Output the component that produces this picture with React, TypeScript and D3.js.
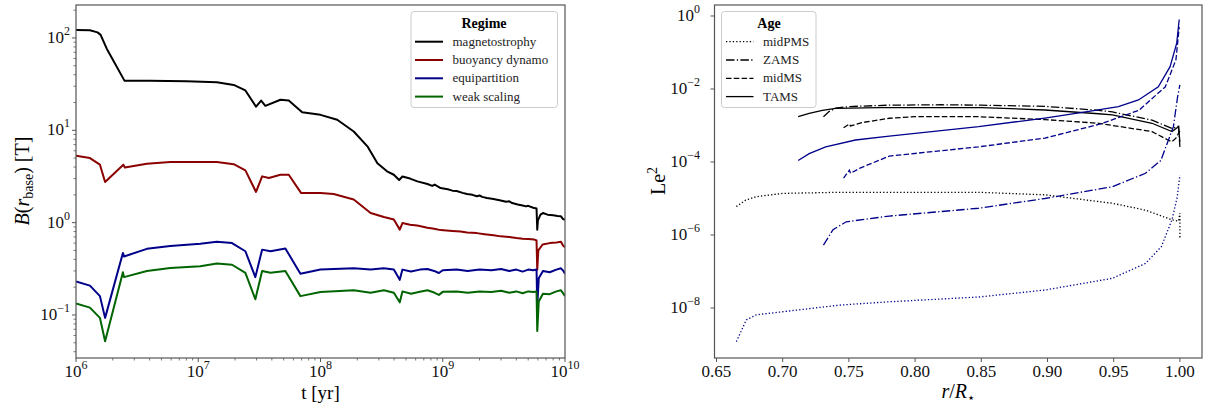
import React from 'react';
import * as d3 from 'd3';

type Pt = [number, number];

// ---- left panel: field strength at the base vs age ----
const regimeNames = ['magnetostrophy', 'buoyancy dynamo', 'equipartition', 'weak scaling'];
const regimeColors = ['#000000', '#8b0000', '#00008b', '#006400'];

const magnetostrophy: Pt[] = [
  [1e6, 122], [1.3e6, 121], [1.5e6, 115], [1.59e6, 108], [1.78e6, 77], [2.49e6, 34.5],
  [4e6, 34.5], [8e6, 34], [1.42e7, 33.2], [1.95e7, 31], [2.43e7, 27], [2.97e7, 18],
  [3.27e7, 21], [3.54e7, 18.4], [4.7e7, 21.4], [5.5e7, 21], [7.08e7, 15.7], [1e8, 14.7],
  [1.37e8, 13], [1.87e8, 9.7], [2.42e8, 6.7], [2.92e8, 4.4], [3.5e8, 3.6], [3.98e8, 3.3],
  [4.4e8, 2.9], [4.68e8, 3.16], [5.4e8, 3.0], [6.2e8, 2.8], [7.5e8, 2.62], [8.2e8, 2.5],
  [8.6e8, 2.58], [9.6e8, 2.37], [1.1e9, 2.3], [1.2e9, 2.22], [1.3e9, 2.2], [1.45e9, 2.1],
  [1.58e9, 2.04], [1.75e9, 2.0], [1.9e9, 1.93], [2.0e9, 1.97], [2.1e9, 1.9], [2.3e9, 1.85],
  [2.6e9, 1.8], [2.98e9, 1.74], [3.3e9, 1.68], [3.5e9, 1.7], [3.7e9, 1.63], [4.1e9, 1.57],
  [4.5e9, 1.53], [4.8e9, 1.5], [5.0e9, 1.52], [5.5e9, 1.45], [5.85e9, 1.42], [5.93e9, 0.84],
  [6.0e9, 1.05], [6.3e9, 1.22], [6.6e9, 1.27], [7.2e9, 1.22], [8.0e9, 1.2], [8.7e9, 1.18],
  [9.27e9, 1.17], [9.6e9, 1.1], [1e10, 1.07],
];

const buoyancyDynamo: Pt[] = [
  [1e6, 5.3], [1.3e6, 5.0], [1.57e6, 4.24], [1.73e6, 2.75], [2.44e6, 4.24], [2.51e6, 3.96],
  [3.8e6, 4.35], [5.9e6, 4.53], [1.42e7, 4.53], [1.95e7, 4.3], [2.43e7, 3.68], [2.97e7, 2.15],
  [3.33e7, 3.17], [3.78e7, 3.04], [4.7e7, 3.3], [5.5e7, 3.3], [6.95e7, 2.09], [1e8, 2.09],
  [1.28e8, 2.04], [1.87e8, 1.78], [2.57e8, 1.27], [3.3e8, 1.15], [3.98e8, 1.08], [4.45e8, 0.84],
  [4.68e8, 0.99], [5.4e8, 0.95], [6.17e8, 0.93], [7.5e8, 0.88], [8.5e8, 0.86], [9.6e8, 0.83],
  [1.2e9, 0.81], [1.4e9, 0.8], [1.58e9, 0.78], [1.9e9, 0.77], [2.2e9, 0.75], [2.6e9, 0.73],
  [2.98e9, 0.71], [3.5e9, 0.7], [4e9, 0.68], [4.5e9, 0.67], [5e9, 0.665], [5.62e9, 0.655],
  [5.85e9, 0.64], [5.93e9, 0.31], [6.05e9, 0.5], [6.56e9, 0.58], [7.5e9, 0.6], [8.5e9, 0.61],
  [9.27e9, 0.62], [9.6e9, 0.57], [1e10, 0.54],
];

const equipartition: Pt[] = [
  [1e6, 0.23], [1.3e6, 0.208], [1.57e6, 0.16], [1.73e6, 0.093], [2.42e6, 0.47], [2.47e6, 0.43],
  [3.8e6, 0.52], [5.9e6, 0.56], [1.04e7, 0.59], [1.42e7, 0.62], [1.89e7, 0.6], [2.43e7, 0.49],
  [2.93e7, 0.257], [3.33e7, 0.51], [3.9e7, 0.49], [5.16e7, 0.525], [6.85e7, 0.28], [1e8, 0.31],
  [1.87e8, 0.32], [2.57e8, 0.31], [3.3e8, 0.32], [3.98e8, 0.31], [4.45e8, 0.24], [4.68e8, 0.31],
  [5.5e8, 0.295], [6.5e8, 0.31], [7.5e8, 0.315], [8.5e8, 0.3], [9.3e8, 0.285], [1.0e9, 0.305],
  [1.3e9, 0.31], [1.6e9, 0.3], [2e9, 0.31], [2.5e9, 0.305], [3e9, 0.315], [3.5e9, 0.3],
  [4e9, 0.31], [4.5e9, 0.295], [5e9, 0.31], [5.5e9, 0.305], [5.85e9, 0.31], [5.93e9, 0.125],
  [6.1e9, 0.25], [6.6e9, 0.3], [7.5e9, 0.29], [8.5e9, 0.31], [9.27e9, 0.32], [9.7e9, 0.3],
  [1e10, 0.28],
];

const weakScaling: Pt[] = [
  [1e6, 0.133], [1.3e6, 0.12], [1.57e6, 0.093], [1.73e6, 0.052], [2.42e6, 0.29], [2.47e6, 0.257],
  [3.8e6, 0.3], [5.9e6, 0.323], [1.04e7, 0.337], [1.42e7, 0.36], [1.89e7, 0.35], [2.43e7, 0.286],
  [2.93e7, 0.148], [3.33e7, 0.3], [3.9e7, 0.286], [5.16e7, 0.3], [6.85e7, 0.16], [1e8, 0.177],
  [1.87e8, 0.185], [2.57e8, 0.174], [3.3e8, 0.185], [3.98e8, 0.174], [4.45e8, 0.137], [4.68e8, 0.18],
  [5.5e8, 0.17], [6.5e8, 0.178], [7.5e8, 0.185], [8.5e8, 0.175], [9.3e8, 0.165], [1.0e9, 0.178],
  [1.3e9, 0.18], [1.6e9, 0.174], [2e9, 0.18], [2.5e9, 0.177], [3e9, 0.183], [3.5e9, 0.174],
  [4e9, 0.18], [4.5e9, 0.172], [5e9, 0.18], [5.5e9, 0.177], [5.85e9, 0.18], [5.93e9, 0.067],
  [6.1e9, 0.14], [6.6e9, 0.17], [7.5e9, 0.168], [8.5e9, 0.18], [9.27e9, 0.185], [9.7e9, 0.17],
  [1e10, 0.16],
];

const regimeSeries = [magnetostrophy, buoyancyDynamo, equipartition, weakScaling];
const leftXTicks = [6, 7, 8, 9, 10];
const leftYTicks = [-1, 0, 1, 2];

// ---- right panel: Le^2 profiles ----
const ageNames = ['midPMS', 'ZAMS', 'midMS', 'TAMS'];
const ageDash = ['1.3,2.1', '8.5,2.3,1.3,2.3', '5.5,2.3', ''];

const midPMSBlack: Pt[] = [
  [0.665, 6e-6], [0.672, 9e-6], [0.68, 1.12e-5], [0.7, 1.38e-5], [0.743, 1.48e-5], [0.8, 1.48e-5],
  [0.848, 1.48e-5], [0.898, 1.26e-5], [0.949, 7.4e-6], [0.974, 4.8e-6], [0.994, 2.6e-6],
  [0.999, 2.4e-6], [1.0, 4e-6], [1.0, 8e-7],
];
const zamsBlack: Pt[] = [
  [0.7308, 1.74e-3], [0.735, 2.4e-3], [0.74, 3.0e-3], [0.75, 3.3e-3], [0.78, 3.6e-3], [0.82, 3.7e-3],
  [0.85, 3.6e-3], [0.898, 3.35e-3], [0.9386, 2.6e-3], [0.949, 2.35e-3], [0.979, 1.4e-3],
  [0.994, 8.3e-4], [0.999, 9.5e-4], [1.0, 2.6e-4],
];
const midMSBlack: Pt[] = [
  [0.746, 8.7e-4], [0.7504, 1.1e-3], [0.7512, 9.7e-4], [0.76, 1.2e-3], [0.7805, 1.58e-3],
  [0.8, 1.74e-3], [0.848, 1.74e-3], [0.898, 1.45e-3], [0.9386, 1.15e-3], [0.979, 6.8e-4],
  [0.991, 4.0e-4], [0.994, 3.6e-4], [0.997, 4.5e-4], [1.0, 7e-4],
];
const tamsBlack: Pt[] = [
  [0.7117, 1.74e-3], [0.72, 2.15e-3], [0.73, 2.6e-3], [0.74, 2.95e-3], [0.773, 3.1e-3],
  [0.85, 3.1e-3], [0.898, 2.66e-3], [0.9386, 2.1e-3], [0.949, 1.95e-3], [0.979, 1.15e-3],
  [0.994, 6.8e-4], [0.999, 9.3e-4], [1.0, 3.6e-4],
];

const midPMSBlue: Pt[] = [
  [0.665, 1.2e-9], [0.6725, 4.7e-9], [0.68, 6.5e-9], [0.7, 7.9e-9], [0.743, 1.2e-8], [0.7805, 1.48e-8],
  [0.848, 2.0e-8], [0.898, 3.1e-8], [0.949, 6.5e-8], [0.974, 1.66e-7], [0.986, 4.8e-7],
  [0.994, 2.6e-6], [0.998, 1.1e-5], [1.0, 4.4e-5],
];
const zamsBlue: Pt[] = [
  [0.7308, 5.3e-7], [0.738, 1.4e-6], [0.748, 2.3e-6], [0.7805, 3.3e-6], [0.848, 5.4e-6],
  [0.898, 1.0e-5], [0.949, 2.1e-5], [0.974, 4.9e-5], [0.9856, 1.1e-4], [0.9951, 9.3e-4],
  [0.9983, 6.2e-3], [1.0, 1.3e-2],
];
const midMSBlue: Pt[] = [
  [0.746, 3.6e-5], [0.7504, 6e-5], [0.7512, 4.9e-5], [0.758, 6.7e-5], [0.7805, 1.45e-4],
  [0.848, 2.6e-4], [0.898, 4.5e-4], [0.94, 1.1e-3], [0.969, 2.6e-3], [0.989, 1.15e-2],
  [0.997, 6.3e-2], [0.9995, 0.5],
];
const tamsBlue: Pt[] = [
  [0.7117, 1.1e-4], [0.72, 1.7e-4], [0.7325, 2.6e-4], [0.755, 4.0e-4], [0.7805, 5.1e-4],
  [0.848, 9.3e-4], [0.898, 1.6e-3], [0.93, 2.4e-3], [0.9536, 3.3e-3], [0.9687, 5e-3],
  [0.9837, 1.15e-2], [0.9926, 4.1e-2], [0.9976, 0.18], [0.9995, 0.8],
];

const blackProfiles = [midPMSBlack, zamsBlack, midMSBlack, tamsBlack];
const blueProfiles = [midPMSBlue, zamsBlue, midMSBlue, tamsBlue];
const rightXTicks = [0.65, 0.7, 0.75, 0.8, 0.85, 0.9, 0.95, 1.0];
const rightYTicks = [0, -2, -4, -6, -8];

const serif = '"Liberation Serif", "DejaVu Serif", serif';
const spine = '#555';

const PowTen = ({ x, y, exp, anchor }: { x: number; y: number; exp: number; anchor: string }) => (
  <text x={x} y={y} textAnchor={anchor} fontFamily={serif} fontSize={17} fill="#111">
    <tspan>10</tspan>
    <tspan dy={-8} fontSize={12}>{exp < 0 ? `\u2212${-exp}` : `${exp}`}</tspan>
  </text>
);

const App: React.FC = () => {
  const xL = d3.scaleLog().domain([1e6, 1e10]).range([76, 565]);
  const yL = d3.scaleLog().domain([10 ** -1.466, 10 ** 2.357]).range([358, 5]);
  const xR = d3.scaleLinear().domain([0.6485, 1.0167]).range([714.5, 1202]);
  const yR = d3.scaleLog().domain([10 ** -9.37, 10 ** 0.301]).range([358, 5]);

  const lineL = d3.line<Pt>().x(d => xL(d[0])).y(d => yL(d[1]));
  const lineR = d3.line<Pt>().x(d => xR(d[0])).y(d => yR(d[1]));

  const minorX: number[] = [];
  for (let k = 6; k < 10; k++) for (let s = 2; s <= 9; s++) minorX.push(s * 10 ** k);
  const minorY: number[] = [];
  for (let k = -2; k <= 2; k++) for (let s = 2; s <= 9; s++) {
    const v = s * 10 ** k;
    if (v > 10 ** -1.466 && v < 10 ** 2.357) minorY.push(v);
  }

  const [l0, l1] = xL.range();
  const [r0, r1] = xR.range();

  return (
    <svg width={1212} height={410} style={{ position: 'absolute', left: 0, top: 0, background: '#fff' }}>
      <defs>
        <clipPath id="clipL"><rect x={l0} y={5} width={l1 - l0} height={353} /></clipPath>
        <clipPath id="clipR"><rect x={r0} y={5} width={r1 - r0} height={353} /></clipPath>
      </defs>

      {/* left panel */}
      <g clipPath="url(#clipL)">
        {regimeSeries.map((s, i) => (
          <path key={i} d={lineL(s) || ''} fill="none" stroke={regimeColors[i]} strokeWidth={2}
            strokeLinejoin="round" />
        ))}
      </g>
      <rect x={l0} y={5} width={l1 - l0} height={353} fill="none" stroke={spine} strokeWidth={1.2} />
      {minorX.map(v => (
        <line key={'mx' + v} x1={xL(v)} x2={xL(v)} y1={358} y2={360.5} stroke={spine} strokeWidth={0.8} />
      ))}
      {minorY.map(v => (
        <line key={'my' + v} x1={l0} x2={l0 - 2.5} y1={yL(v)} y2={yL(v)} stroke={spine} strokeWidth={0.8} />
      ))}
      {leftXTicks.map(e => (
        <g key={'lx' + e}>
          <line x1={xL(10 ** e)} x2={xL(10 ** e)} y1={358} y2={362} stroke={spine} strokeWidth={1} />
          <PowTen x={xL(10 ** e)} y={377} exp={e} anchor="middle" />
        </g>
      ))}
      {leftYTicks.map(e => (
        <g key={'ly' + e}>
          <line x1={l0} x2={l0 - 4} y1={yL(10 ** e)} y2={yL(10 ** e)} stroke={spine} strokeWidth={1} />
          <PowTen x={70} y={yL(10 ** e) + 5} exp={e} anchor="end" />
        </g>
      ))}
      <text x={(l0 + l1) / 2} y={399} textAnchor="middle" fontFamily={serif} fontSize={19}>t [yr]</text>
      <text transform={`translate(29,${181}) rotate(-90)`} textAnchor="middle" fontFamily={serif} fontSize={20}>
        <tspan fontStyle="italic">B</tspan>
        <tspan>(</tspan>
        <tspan fontStyle="italic">r</tspan>
        <tspan dy={4} fontSize={14}>base</tspan>
        <tspan dy={-4}>) [T]</tspan>
      </text>

      {/* left legend */}
      <g>
        <rect x={411} y={11.5} width={146.5} height={96} rx={3} fill="#fff" fillOpacity={0.8} stroke="#ccc" />
        <text x={484} y={27.5} textAnchor="middle" fontFamily={serif} fontSize={14} fontWeight="bold">Regime</text>
        {regimeNames.map((n, i) => (
          <g key={n}>
            <line x1={415} x2={443} y1={41.7 + i * 18.3} y2={41.7 + i * 18.3} stroke={regimeColors[i]} strokeWidth={2} />
            <text x={452.5} y={45.8 + i * 18.3} fontFamily={serif} fontSize={13} fill="#222">{n}</text>
          </g>
        ))}
      </g>

      {/* right panel */}
      <g clipPath="url(#clipR)">
        {blackProfiles.map((s, i) => (
          <path key={'b' + i} d={lineR(s) || ''} fill="none" stroke="#000" strokeWidth={1.3}
            strokeDasharray={ageDash[i]} />
        ))}
        {blueProfiles.map((s, i) => (
          <path key={'u' + i} d={lineR(s) || ''} fill="none" stroke="#00008b" strokeWidth={1.3}
            strokeDasharray={ageDash[i]} />
        ))}
      </g>
      <rect x={r0} y={5} width={r1 - r0} height={353} fill="none" stroke={spine} strokeWidth={1.2} />
      {rightXTicks.map(v => (
        <g key={'rx' + v}>
          <line x1={xR(v)} x2={xR(v)} y1={358} y2={362} stroke={spine} strokeWidth={1} />
          <text x={xR(v)} y={377} textAnchor="middle" fontFamily={serif} fontSize={17} fill="#111">
            {v.toFixed(2)}
          </text>
        </g>
      ))}
      {rightYTicks.map(e => (
        <g key={'ry' + e}>
          <line x1={r0} x2={r0 - 4} y1={yR(10 ** e)} y2={yR(10 ** e)} stroke={spine} strokeWidth={1} />
          <PowTen x={700} y={yR(10 ** e) + 5} exp={e} anchor="end" />
        </g>
      ))}
      <text x={(r0 + r1) / 2} y={398} textAnchor="middle" fontFamily={serif} fontSize={20}>
        <tspan fontStyle="italic">r</tspan>
        <tspan>/</tspan>
        <tspan fontStyle="italic">R</tspan>
        <tspan dy={4} fontSize={13}>{'\u22c6'}</tspan>
      </text>
      <text transform={`translate(665,${181}) rotate(-90)`} textAnchor="middle" fontFamily={serif} fontSize={20}>
        <tspan>Le</tspan>
        <tspan dy={-8} fontSize={14}>2</tspan>
      </text>

      {/* right legend */}
      <g>
        <rect x={721.5} y={11.5} width={94.5} height={96} rx={3} fill="#fff" fillOpacity={0.8} stroke="#ccc" />
        <text x={769} y={27.5} textAnchor="middle" fontFamily={serif} fontSize={14} fontWeight="bold">Age</text>
        {ageNames.map((n, i) => (
          <g key={n}>
            <line x1={726} x2={753.5} y1={41.7 + i * 18.3} y2={41.7 + i * 18.3} stroke="#000" strokeWidth={1.3}
              strokeDasharray={ageDash[i]} />
            <text x={763} y={45.8 + i * 18.3} fontFamily={serif} fontSize={13} fill="#222">{n}</text>
          </g>
        ))}
      </g>
    </svg>
  );
};

export default App;
